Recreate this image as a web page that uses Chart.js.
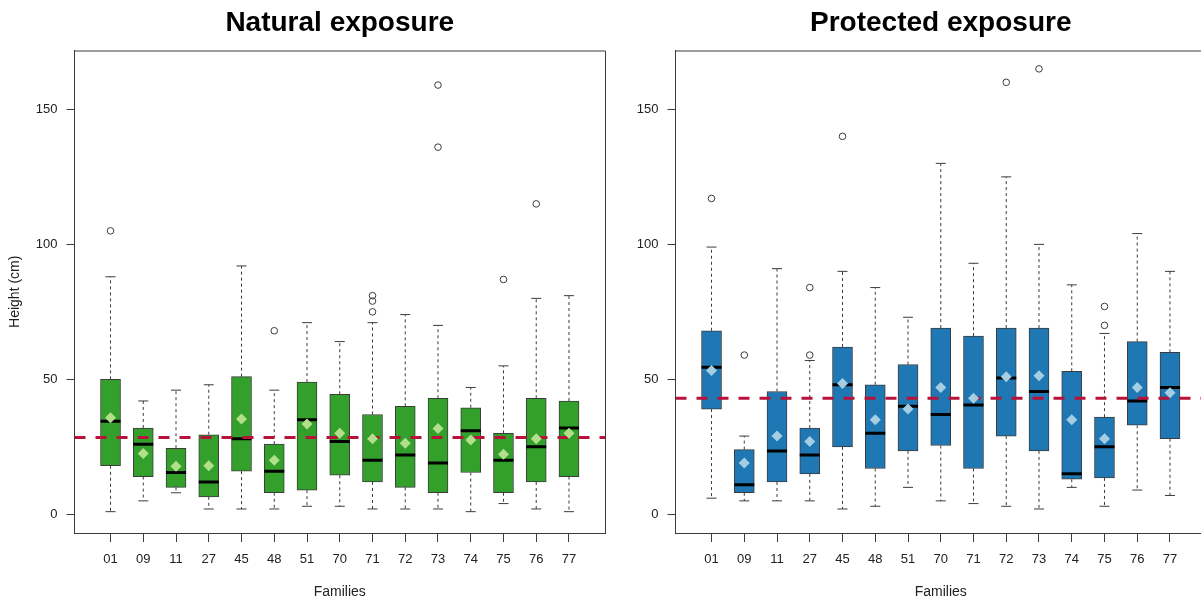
<!DOCTYPE html>
<html>
<head>
<meta charset="utf-8">
<script src="https://cdn.jsdelivr.net/npm/chart.js@4.4.1/dist/chart.umd.min.js"></script>
<style>
html, body { margin: 0; padding: 0; background: #fff; overflow: hidden; width: 1201px; height: 601px; }
canvas { position: absolute; top: 0; }
#natural { left: 0; }
#protected { left: 601px; }
</style>
</head>
<body>
<canvas id="natural" width="620" height="601"></canvas>
<canvas id="protected" width="620" height="601"></canvas>
<script>
var families = ['01', '09', '11', '27', '45', '48', '51', '70', '71', '72', '73', '74', '75', '76', '77'];
var yTicks = [0, 50, 100, 150];

// Natural exposure
var natLow    = [1, 5, 8, 2, 2, 2, 3, 3, 2, 2, 2, 1, 4, 2, 1];
var natQ1     = [18, 14, 10, 6.5, 16, 8, 9, 14.5, 12, 10, 8, 15.5, 8, 12, 14];
var natMedian = [34.5, 26, 15.5, 12, 28, 16, 35, 27, 20, 22, 19, 31, 20, 25, 32];
var natQ3     = [50, 32, 24.5, 29.5, 51, 26, 49, 44.5, 37, 40, 43, 39.5, 30, 43, 42];
var natHigh   = [88, 42, 46, 48, 92, 46, 71, 64, 71, 74, 70, 47, 55, 80, 81];
var natMean   = [35.8, 22.5, 17.8, 18, 35.3, 20, 33.5, 30, 28, 26.3, 31.8, 27.5, 22.3, 28, 30];
var natOut    = [[105], [], [], [], [], [68], [], [], [75, 79, 81], [], [136, 159], [], [87], [115], []];
var natRef = 28.5;

// Protected exposure
var proLow    = [6, 5, 5, 5, 2, 3, 10, 5, 4, 3, 2, 10, 3, 9, 7];
var proQ1     = [39, 8, 12, 15, 25, 17, 23.5, 25.5, 17, 29, 23.5, 13, 13.5, 33, 28];
var proMedian = [54.5, 11, 23.5, 22, 48, 30, 40, 37, 40.5, 50.5, 45.5, 15, 25, 42, 47];
var proQ3     = [68, 24, 45.5, 32, 62, 48, 55.5, 69, 66, 69, 69, 53, 36, 64, 60];
var proHigh   = [99, 29, 91, 57, 90, 84, 73, 130, 93, 125, 100, 85, 67, 104, 90];
var proMean   = [53.3, 19, 29, 27, 48.5, 35, 39, 47, 43, 51, 51.3, 35, 28, 47, 45];
var proOut    = [[117], [59], [], [59, 84], [140], [], [], [], [], [160], [165], [], [70, 77], [], []];
var proRef = 43;

Chart.defaults.font.family = '"Liberation Sans", Arial, sans-serif';
Chart.defaults.color = '#222';

var lineCol = '#3c3c3c';

// top and right sides of the plot box
var framePlugin = {
  id: 'frame',
  afterDraw: function(chart) {
    var a = chart.chartArea, ctx = chart.ctx;
    ctx.save();
    ctx.strokeStyle = lineCol;
    ctx.lineWidth = 1;
    ctx.beginPath();
    ctx.moveTo(a.left, a.top + 0.5);
    ctx.lineTo(Math.round(a.right) + 0.5, a.top + 0.5);
    ctx.lineTo(Math.round(a.right) + 0.5, a.bottom);
    ctx.stroke();
    ctx.restore();
  }
};

function makeChart(id, title, yTitle, low, q1, med, q3, high, mean, out, ref, boxColor, meanColor) {
  var boxes = [], medians = [], whiskers = [], caps = [], means = [], outliers = [];
  families.forEach(function(f, i) {
    var x = i + 1;
    boxes.push({x: x, y: [q1[i], q3[i]]});
    medians.push({x: x, y: med[i]});
    whiskers.push({x: x, y: q3[i]}, {x: x, y: high[i]}, {x: x, y: null},
                  {x: x, y: q1[i]}, {x: x, y: low[i]}, {x: x, y: null});
    caps.push({x: x, y: low[i]}, {x: x, y: high[i]});
    means.push({x: x, y: mean[i]});
    out[i].forEach(function(v) { outliers.push({x: x, y: v}); });
  });

  return new Chart(document.getElementById(id), {
    type: 'bar',
    data: {
      datasets: [
        {
          type: 'bar',
          data: boxes,
          backgroundColor: boxColor,
          borderColor: lineCol,
          borderWidth: 1,
          borderSkipped: false,
          barThickness: 20,
          grouped: false,
          order: 6
        },
        {
          type: 'line',
          data: whiskers,
          borderColor: lineCol,
          borderWidth: 1,
          borderDash: [3, 3],
          pointRadius: 0,
          spanGaps: false,
          order: 5
        },
        {
          type: 'scatter',
          data: caps,
          pointStyle: 'line',
          pointRadius: 5,
          borderColor: lineCol,
          borderWidth: 1,
          order: 5
        },
        {
          type: 'scatter',
          data: medians,
          pointStyle: 'line',
          pointRadius: 10,
          borderColor: '#000',
          borderWidth: 3,
          order: 4
        },
        {
          type: 'scatter',
          data: outliers,
          pointStyle: 'circle',
          pointRadius: 3.3,
          borderColor: lineCol,
          backgroundColor: 'rgba(0,0,0,0)',
          borderWidth: 1,
          order: 3
        },
        {
          type: 'line',
          data: [{x: -0.1, y: ref}, {x: 16.1, y: ref}],
          borderColor: '#b8123a',
          borderWidth: 3,
          borderDash: [11, 10],
          pointRadius: 0,
          order: 2
        },
        {
          type: 'scatter',
          data: means,
          pointStyle: 'rectRot',
          pointRadius: 5.5,
          backgroundColor: meanColor,
          borderWidth: 0,
          order: 1
        }
      ]
    },
    options: {
      responsive: false,
      animation: false,
      events: [],
      layout: { padding: { top: 0, right: 15, bottom: 0, left: 0 } },
      plugins: {
        legend: { display: false },
        tooltip: { enabled: false },
        title: {
          display: true,
          text: title,
          fullSize: false,
          color: '#000',
          font: { size: 28, weight: 'bold' },
          padding: { top: 6, bottom: 10.9 }
        }
      },
      scales: {
        x: {
          type: 'linear',
          min: -0.1,
          max: 16.1,
          offset: false,
          bounds: 'data',
          afterBuildTicks: function(s) {
            s.ticks = families.map(function(f, i) { return {value: i + 1}; });
          },
          afterFit: function(s) { s.height = 68; },
          ticks: {
            autoSkip: false,
            maxRotation: 0,
            padding: 10,
            color: '#222',
            font: { size: 13 },
            callback: function(v) { return families[v - 1]; }
          },
          grid: { offset: false, drawOnChartArea: false, drawTicks: true, tickLength: 9, color: lineCol },
          border: { display: true, color: lineCol, width: 1 },
          title: { display: true, text: 'Families', color: '#222', font: { size: 14 }, padding: { top: 0, bottom: 0 } }
        },
        y: {
          type: 'linear',
          min: -6.9,
          max: 171.8,
          bounds: 'data',
          afterBuildTicks: function(s) {
            s.ticks = yTicks.map(function(v) { return {value: v}; });
          },
          afterFit: function(s) { s.width = 74.5; },
          ticks: { padding: 9, color: '#222', font: { size: 13 } },
          grid: { drawOnChartArea: false, drawTicks: true, tickLength: 8, color: lineCol },
          border: { display: true, color: lineCol, width: 1 },
          title: { display: yTitle, text: 'Height (cm)', color: '#222', font: { size: 14 }, padding: { top: 7, bottom: 0 } }
        }
      }
    },
    plugins: [framePlugin]
  });
}

makeChart('natural', 'Natural exposure', true, natLow, natQ1, natMedian, natQ3, natHigh, natMean, natOut, natRef, '#33a02c', '#b2df8a');
makeChart('protected', 'Protected exposure', false, proLow, proQ1, proMedian, proQ3, proHigh, proMean, proOut, proRef, '#1f78b4', '#a6cee3');
</script>
</body>
</html>
